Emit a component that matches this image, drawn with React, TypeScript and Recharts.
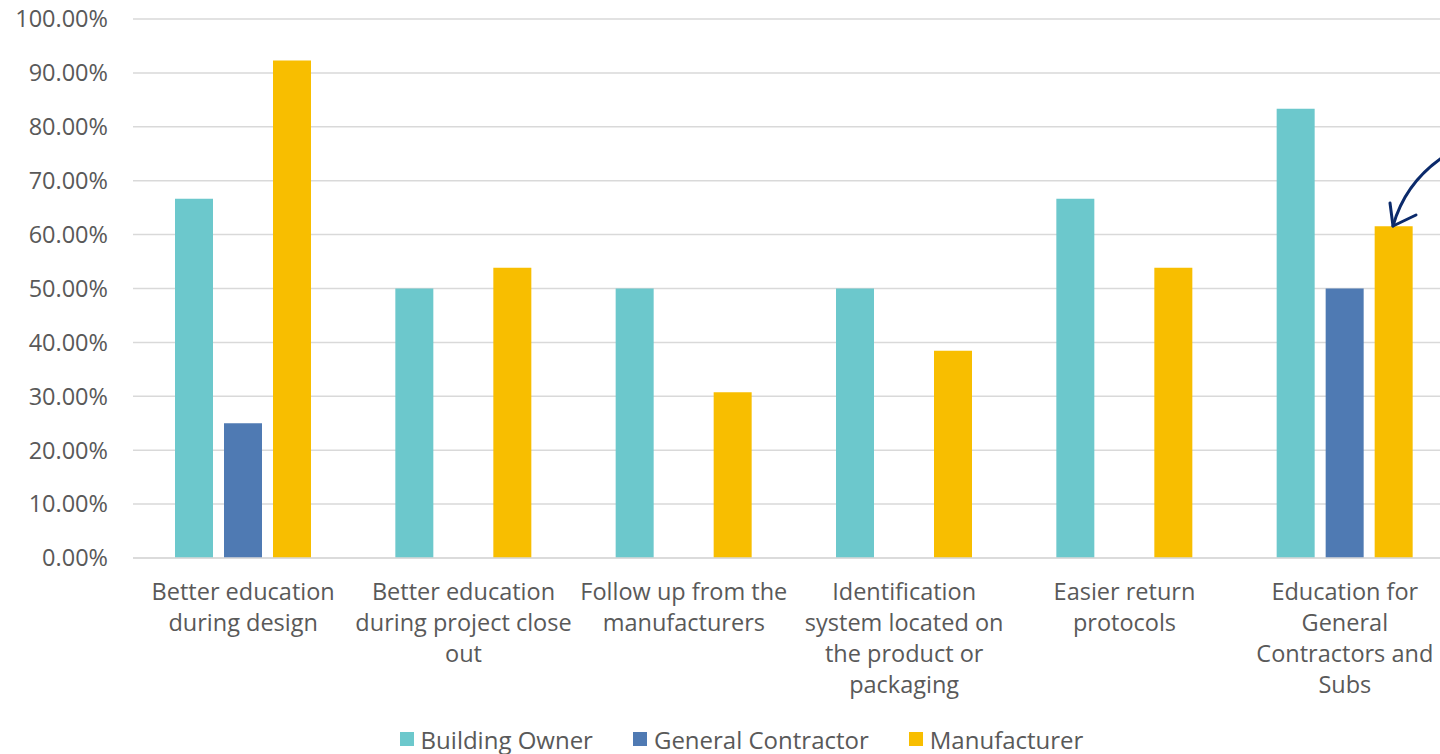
import React from 'react';
import { BarChart, Bar, XAxis, YAxis, CartesianGrid, Legend } from 'recharts';

// --- DATA ---
const categories = [
  'Better education\nduring design',
  'Better education\nduring project close\nout',
  'Follow up from the\nmanufacturers',
  'Identification\nsystem located on\nthe product or\npackaging',
  'Easier return\nprotocols',
  'Education for\nGeneral\nContractors and\nSubs',
];
const buildingOwner = [66.67, 50, 50, 50, 66.67, 83.33];
const generalContractor = [25, 0, 0, 0, 0, 50];
const manufacturer = [92.31, 53.85, 30.77, 38.46, 53.85, 61.54];
const yTicks = [0, 10, 20, 30, 40, 50, 60, 70, 80, 90, 100];

const SERIES = [
  { key: 'owner', name: 'Building Owner', color: '#6CC8CC' },
  { key: 'gc', name: 'General Contractor', color: '#4F7AB3' },
  { key: 'mfr', name: 'Manufacturer', color: '#F8BE00' },
];

const FONT = '"Open Sans", sans-serif';
const FS = 23.5;
const TEXT = '#595959';

const data = categories.map((name, i) => ({
  name,
  owner: buildingOwner[i],
  gc: generalContractor[i],
  mfr: manufacturer[i],
}));

// multi-line category label
const CategoryTick = (props: any) => {
  const { x, y, payload } = props;
  const lines = String(payload.value).split('\n');
  return (
    <text x={x} y={y} textAnchor="middle" fill={TEXT} fontSize={FS} fontFamily={FONT}>
      {lines.map((l, i) => (
        <tspan key={i} x={x} dy={i === 0 ? 34 : 31}>{l}</tspan>
      ))}
    </text>
  );
};

const LegendContent = () => (
  <div style={{ display: 'flex', justifyContent: 'center', height: 30, alignItems: 'center', fontFamily: FONT, fontSize: 24, color: TEXT, paddingLeft: 28 }}>
    {SERIES.map(s => (
      <div key={s.key} style={{ display: 'flex', alignItems: 'center', margin: '0 20px' }}>
        <span style={{ width: 14, height: 14, background: s.color, marginRight: 7, display: 'inline-block' }} />
        <span>{s.name}</span>
      </div>
    ))}
  </div>
);

export default function App() {
  return (
    <div style={{ position: 'fixed', left: 0, top: 0, width: 1440, height: 754, overflow: 'hidden', background: '#fff' }}>
      <BarChart
        width={1482}
        height={754}
        data={data}
        margin={{ top: 19, right: 27, left: 0, bottom: 0 }}
        barSize={38}
        barGap={11}
      >
        <CartesianGrid vertical={false} stroke="#D9D9D9" strokeWidth={1.5} />
        <XAxis
          dataKey="name"
          height={166}
          interval={0}
          tick={<CategoryTick />}
          tickLine={false}
          axisLine={{ stroke: '#D9D9D9', strokeWidth: 1.5 }}
        />
        <YAxis
          width={133}
          domain={[0, 100]}
          ticks={yTicks}
          tickFormatter={(v: number) => `${v.toFixed(2)}%`}
          tick={{ fontSize: FS, fill: TEXT, fontFamily: FONT }}
          tickLine={false}
          tickSize={0}
          tickMargin={25}
          axisLine={false}
        />
        <Legend verticalAlign="bottom" content={<LegendContent />} />
        {SERIES.map(s => (
          <Bar key={s.key} dataKey={s.key} name={s.name} fill={s.color} isAnimationActive={false} />
        ))}
      </BarChart>
      {/* hand-drawn arrow annotation */}
      <svg width={1440} height={754} style={{ position: 'absolute', left: 0, top: 0, pointerEvents: 'none' }}>
        <path d="M1443 157 Q1405 183 1393 226" fill="none" stroke="#0B2A6B" strokeWidth={3} strokeLinecap="round" />
        <path d="M1390 203 L1393 226 L1416 215" fill="none" stroke="#0B2A6B" strokeWidth={3} strokeLinecap="round" strokeLinejoin="round" />
      </svg>
    </div>
  );
}
